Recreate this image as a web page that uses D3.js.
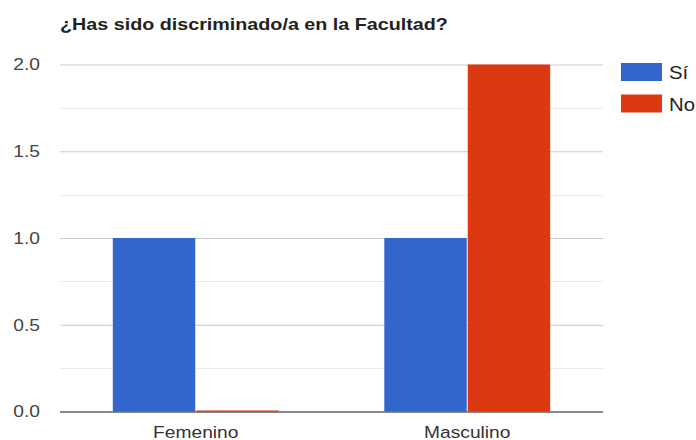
<!DOCTYPE html>
<html><head><meta charset="utf-8">
<script src="https://cdn.jsdelivr.net/npm/d3@7"></script>
<style>body{margin:0;background:#fff}svg{display:block}</style>
</head><body>
<script>
const title = "¿Has sido discriminado/a en la Facultad?";
const categories = ["Femenino", "Masculino"];
const seriesNames = ["Sí", "No"];
const siValues = [1, 1];
const noValues = [0, 2];
const colors = ["#3366cc", "#dc3912"];
const yTicks = [0, 0.5, 1.0, 1.5, 2.0];
const yMinorTicks = [0.25, 0.75, 1.25, 1.75];

const W = 696, H = 440;
const m = {left: 60, right: 93, top: 64.5, bottom: 28.5};
const SX = 1.13; // horizontal text stretch seen in the reference
const svg = d3.select("body").append("svg").attr("width", W).attr("height", H);
const font = "Arial, 'Liberation Sans', sans-serif";

const x0 = d3.scaleBand().domain(categories).range([m.left, W - m.right]).paddingInner(0.389).paddingOuter(0.1945);
const x1 = d3.scaleBand().domain(seriesNames).range([0, x0.bandwidth()]);
const y = d3.scaleLinear().domain([0, 2]).range([H - m.bottom, m.top]);

svg.append("text").attr("transform", `translate(60,29.5) scale(1.16,1)`).attr("font-family", font).attr("font-weight", "bold")
  .attr("font-size", 17).attr("fill", "#222").text(title);

// minor grid
svg.append("g").selectAll("line").data(yMinorTicks).join("line")
  .attr("x1", m.left).attr("x2", W - m.right)
  .attr("y1", d => Math.round(y(d)) + 0.5).attr("y2", d => Math.round(y(d)) + 0.5)
  .attr("stroke", "#ebebeb");
// major grid
const yAxis = svg.append("g").attr("transform", `translate(${m.left},0)`)
  .call(d3.axisLeft(y).tickValues(yTicks).tickFormat(d3.format(".1f")).tickSize(-(W - m.left - m.right)).tickPadding(0));
yAxis.select(".domain").remove();
yAxis.selectAll(".tick line").attr("stroke", "#cccccc");
yAxis.selectAll(".tick text").attr("x", null).attr("transform", `translate(-20,0) scale(${SX},1)`)
  .attr("font-family", font).attr("font-size", 17).attr("fill", "#444");

const data = categories.map((c, i) => ({cat: c, vals: [siValues[i], noValues[i]]}));
svg.append("g").selectAll("g").data(data).join("g")
  .attr("transform", d => `translate(${x0(d.cat)},0)`)
  .selectAll("rect").data(d => d.vals.map((v, j) => ({name: seriesNames[j], v, j}))).join("rect")
  .attr("x", d => x1(d.name) + (d.j ? 0.5 : 0))
  .attr("width", d => x1.bandwidth() - 0.5)
  .attr("y", d => Math.min(y(d.v), y(0) - 1))
  .attr("height", d => Math.max(y(0) - y(d.v), 1))
  .attr("fill", d => colors[d.j]);

// baseline
svg.append("line").attr("x1", m.left).attr("x2", W - m.right)
  .attr("y1", y(0) + 0.5).attr("y2", y(0) + 0.5).attr("stroke", "#333");

// x axis labels
const xAxis = svg.append("g").attr("transform", `translate(0,${y(0)})`)
  .call(d3.axisBottom(x0).tickSize(0).tickPadding(0));
xAxis.select(".domain").remove();
xAxis.selectAll(".tick text").attr("y", null).attr("dy", null)
  .attr("transform", `translate(0,26) scale(${SX},1)`)
  .attr("font-family", font).attr("font-size", 17).attr("fill", "#333");

// legend
const leg = svg.append("g").selectAll("g").data(seriesNames).join("g")
  .attr("transform", (d, i) => `translate(621,${63 + i * 31.5})`);
leg.append("rect").attr("width", 41).attr("height", 18).attr("fill", (d, i) => colors[i]);
leg.append("text").attr("transform", `translate(48,16) scale(${SX},1)`).attr("font-family", font).attr("font-size", 18)
  .attr("fill", "#222").text(d => d);
</script>
</body></html>
